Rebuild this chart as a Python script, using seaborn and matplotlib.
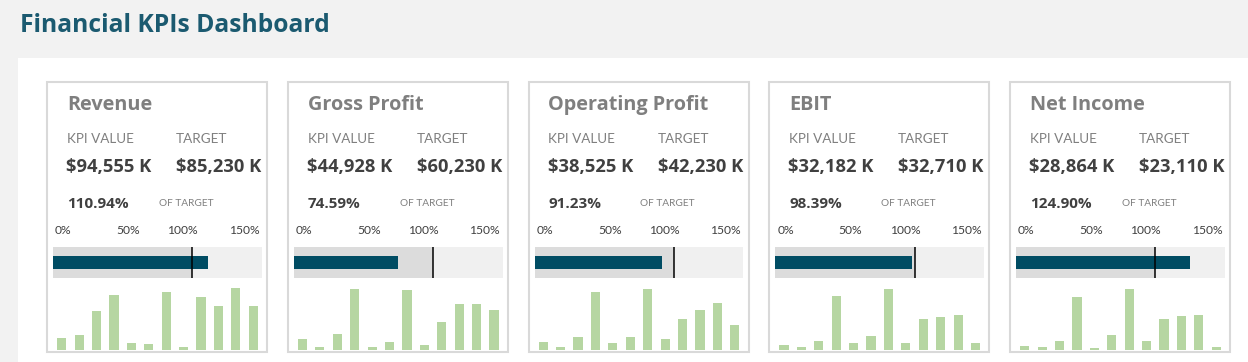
import numpy as np
import pandas as pd
import matplotlib.pyplot as plt
import seaborn as sns
from matplotlib.patches import Rectangle

# kpi data
kpis = ["Revenue", "Gross Profit", "Operating Profit", "EBIT", "Net Income"]
kpi_values = [94555, 44928, 38525, 32182, 28864]
targets = [85230, 60230, 42230, 32710, 23110]
pct_labels = ["110.94%", "74.59%", "91.23%", "98.39%", "124.90%"]

# monthly trend bars (relative heights)
trend_revenue = [35, 45, 116, 165, 20, 19, 173, 10, 159, 132, 186, 132]
trend_gross = [33, 10, 47, 184, 8, 23, 180, 14, 84, 137, 137, 121]
trend_oper = [23, 8, 40, 174, 20, 40, 184, 32, 94, 120, 141, 75]
trend_ebit = [16, 8, 28, 163, 22, 43, 184, 22, 94, 100, 104, 20]
trend_net = [13, 9, 28, 158, 5, 46, 184, 26, 93, 102, 106, 8]
trends = [trend_revenue, trend_gross, trend_oper, trend_ebit, trend_net]

scale_labels = ["0%", "50%", "100%", "150%"]

sns.set_style("white")
plt.rcParams["font.family"] = ["Open Sans", "DejaVu Sans"]

W, H = 1248, 362
fig = plt.figure(figsize=(W / 100, H / 100), dpi=100, facecolor="#f2f2f2")


def fx(x):
    return x / W


def fy(y):
    return 1 - y / H


def box(x, y, w, h):
    return [x / W, 1 - (y + h) / H, w / W, h / H]


teal = "#004c63"
green = "#b6d6a2"
grey_txt = "#7f7f7f"
dark_txt = "#404040"

fig.patches.append(Rectangle((fx(18), 0), 1 - fx(18), fy(58), transform=fig.transFigure,
                             facecolor="white", edgecolor="none", zorder=-2))
fig.text(fx(20), fy(26), "Financial KPIs Dashboard", fontsize=17.7, fontweight="bold",
         color="#1b5a70", va="center", ha="left")

for i, name in enumerate(kpis):
    cx = 47 + i * 240.75
    fig.patches.append(Rectangle((fx(cx), fy(352)), 220 / W, 270 / H, transform=fig.transFigure,
                                 facecolor="white", edgecolor="#d9d9d9", lw=1.5, zorder=-1))
    pct = kpi_values[i] / targets[i] * 100

    fig.text(fx(cx + 20), fy(105), name, fontsize=14.3, fontweight="bold", color=grey_txt, va="center")
    fig.text(fx(cx + 20), fy(139), "KPI VALUE", fontsize=9.7, color=grey_txt, va="center", family="Lato")
    fig.text(fx(cx + 129), fy(139), "TARGET", fontsize=9.7, color=grey_txt, va="center", family="Lato")
    fig.text(fx(cx + 19), fy(167), f"${kpi_values[i]:,} K", fontsize=13.2, fontweight="bold",
             color=dark_txt, va="center")
    fig.text(fx(cx + 129), fy(167), f"${targets[i]:,} K", fontsize=13.2, fontweight="bold",
             color=dark_txt, va="center")
    fig.text(fx(cx + 20), fy(204), pct_labels[i], fontsize=11, fontweight="bold", color=dark_txt, va="center")
    fig.text(fx(cx + 112), fy(204), "OF TARGET", fontsize=7.3, color=grey_txt, va="center", family="Lato")

    # bullet chart
    ax = fig.add_axes(box(cx + 6, 247, 209, 31))
    ax.set_zorder(2)
    ax.barh(0, 150, height=1, color="#f0f0f0", lw=0, zorder=0)
    ax.barh(0, 100, height=1, color="#dcdcdc", lw=0, zorder=1)
    sns.barplot(x=[pct], y=[0], orient="h", color=teal, saturation=1, width=0.4,
                linewidth=0, ax=ax, zorder=2)
    ax.axvline(100, color="black", lw=1.1, zorder=3)
    ax.set_xlim(0, 150)
    ax.set_ylim(0.5, -0.5)
    ax.axis("off")
    offs = [1.5, 54, 93, 148]
    has = ["left", "center", "center", "right"]
    for lab, o, ha in zip(scale_labels, offs, has):
        ax.text(o, 1.52, lab, transform=ax.get_xaxis_transform(), ha=ha, va="center",
                fontsize=8.7, color=dark_txt, family="Lato")

    # trend bars
    ax2 = fig.add_axes(box(cx + 6, 288, 209, 62))
    ax2.set_zorder(2)
    sns.barplot(x=list(range(12)), y=trends[i], color=green, saturation=1, width=0.53,
                linewidth=0, ax=ax2)
    ax2.set_xlim(-0.5, 11.5)
    ax2.set_ylim(0, 186)
    ax2.axis("off")

fig.savefig("out.png", dpi=100, facecolor=fig.get_facecolor())
